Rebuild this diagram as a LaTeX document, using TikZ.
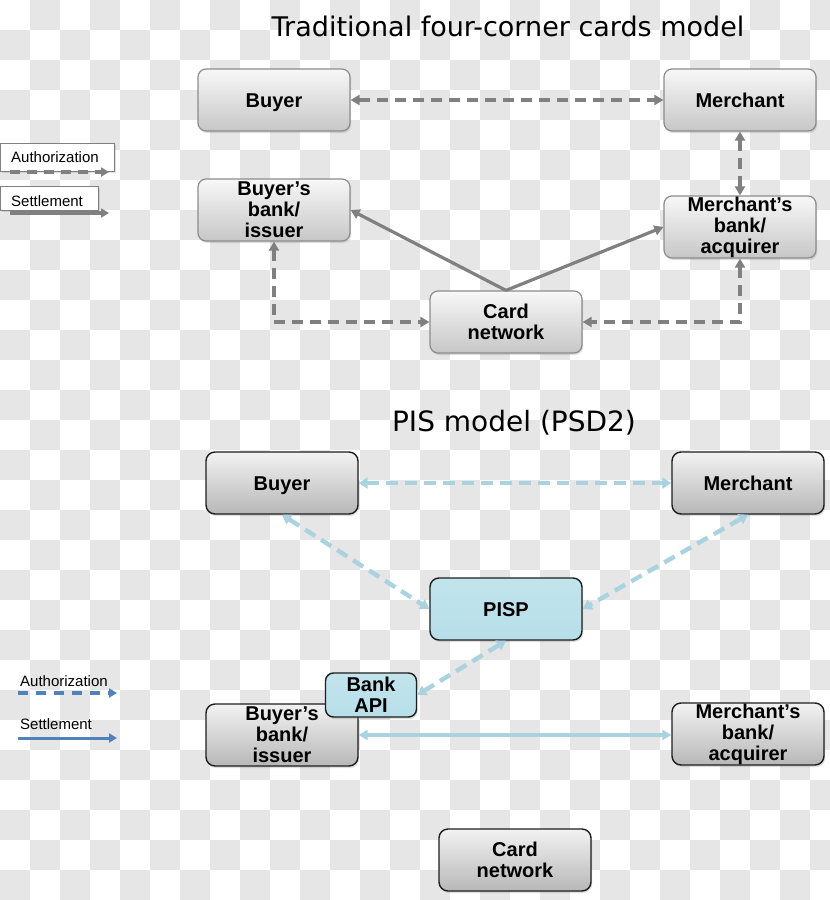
\documentclass[tikz,border=0pt]{standalone}
\usepackage{fontspec}
\setmainfont{Liberation Sans}
\newfontfamily\titlefont{DejaVu Sans}
\usetikzlibrary{arrows.meta,shadows}
\definecolor{checkgray}{HTML}{E6E6E6}
\definecolor{tgray}{HTML}{808080}
\definecolor{tborder}{HTML}{8C8C8C}
\definecolor{lblue}{HTML}{A9D3DF}
\definecolor{pispblue}{HTML}{B7DFE9}
\definecolor{legblue}{HTML}{4F81BD}
\definecolor{bborder}{HTML}{1E1E1E}
\begin{document}
\begin{tikzpicture}[x=1pt,y=-1pt,
  boxfont/.style={font=\fontsize{20}{21}\selectfont\bfseries},
  oneline/.style={text height=14.5pt, text depth=0pt},
  topbox/.style={boxfont, draw=tborder, line width=1.2pt, rounded corners=8pt,
    top color=white!97!black, bottom color=white!78!black,
    minimum width=152pt, minimum height=62pt, inner sep=0pt, align=center,
    drop shadow={shadow xshift=1.2pt, shadow yshift=-2pt, opacity=0.25}},
  botbox/.style={boxfont, draw=bborder, line width=1.4pt, rounded corners=9pt,
    top color=white!95!black, bottom color=white!72!black,
    minimum width=152pt, minimum height=62pt, inner sep=0pt, align=center,
    drop shadow={shadow xshift=1.2pt, shadow yshift=-2pt, opacity=0.25}},
  bluebox/.style={botbox, top color=pispblue!85!white, bottom color=pispblue},
  tarrow/.style={draw=tgray, line width=3.4pt, -{Triangle[length=9pt,width=10pt]}},
  tdash/.style={tarrow, line width=3.8pt, dash pattern=on 11pt off 7pt,
    {Triangle[length=9pt,width=10pt]}-{Triangle[length=9pt,width=10pt]}},
  tsolid/.style={tarrow, line width=3.2pt},
  bdash/.style={draw=lblue, line width=4.4pt, dash pattern=on 12pt off 7pt,
    {Triangle[length=9pt,width=11pt]}-{Triangle[length=9pt,width=11pt]}},
  bsolid/.style={draw=lblue, line width=4pt,
    {Triangle[length=9pt,width=10pt]}-{Triangle[length=9pt,width=10pt]}},
  legtext/.style={font=\fontsize{15}{17}\selectfont, text=black, inner sep=0pt},
  legframe/.style={draw=tgray, line width=1pt, fill=white, inner sep=0pt,
    drop shadow={shadow xshift=1pt, shadow yshift=-1.5pt, opacity=0.25}},
  titletext/.style={font=\titlefont\fontsize{27}{30}\selectfont, text=black}
]
\useasboundingbox (0,0) rectangle (830,900);
% checkerboard background
\begin{scope}
\clip (0,0) rectangle (830,900);
\fill[white] (0,0) rectangle (830,900);
\foreach \j in {0,...,29}{
  \pgfmathsetmacro\off{30*(1-mod(\j,2))}
  \foreach \k in {0,...,13}{
    \fill[checkgray] ({60*\k+\off},{30*\j}) rectangle ++(30,30);
  }
}
\end{scope}

% ---------- titles ----------
\node[titletext] (title1) at (508,26) {Traditional four-corner cards model};
\node[titletext, font=\titlefont\fontsize{28}{30}\selectfont] (title2) at (514,423) {PIS model (PSD2)};

% ---------- top legend ----------
\node[legframe, minimum width=114pt, minimum height=28pt, anchor=north west] (authframe) at (0,143) {};
\node[legtext, anchor=base west] (authlbl) at (11,162) {Authorization};
\coordinate (a1s) at (10,172);
\coordinate (a1e) at (109,172);
\draw[draw=tgray, line width=3.4pt, dash pattern=on 10pt off 7pt, -{Triangle[length=8pt,width=9pt]}] (a1s) -- (a1e);
\node[legframe, minimum width=98pt, minimum height=24pt, anchor=north west] (settframe) at (0,186) {};
\node[legtext, anchor=base west] (settlbl) at (11,206) {Settlement};
\coordinate (s1s) at (10,213);
\coordinate (s1e) at (109,213);
\draw[tarrow, -{Triangle[length=8pt,width=9pt]}] (s1s) -- (s1e);

% ---------- top diagram ----------
\node[topbox, oneline] (buyer) at (274,100) {Buyer};
\node[topbox, oneline] (merchant) at (740,100) {Merchant};
\node[topbox] (bbank) at (274,210) {Buyer’s\\bank/\\issuer};
\node[topbox] (mbank) at (740,227) {Merchant’s\\bank/\\acquirer};
\node[topbox] (card) at (506,322) {Card\\network};

\draw[tdash] (buyer.east) -- (merchant.west);
\draw[tdash] (merchant.south) -- (mbank.north);
\draw[tsolid] (card.north) -- (bbank.east);
\draw[tsolid] (card.north) -- (mbank.west);
\draw[tdash] (bbank.south) |- (card.west);
\draw[tdash] (mbank.south) |- (card.east);

% ---------- bottom legend ----------
\node[legtext, anchor=base west] (authlbl2) at (20,686) {Authorization};
\coordinate (a2s) at (18,693);
\coordinate (a2e) at (117,693);
\draw[draw=legblue, line width=3.4pt, dash pattern=on 10pt off 8pt, -{Triangle[length=8pt,width=9pt]}] (a2s) -- (a2e);
\node[legtext, anchor=base west] (settlbl2) at (20,729) {Settlement};
\coordinate (s2s) at (18,738);
\coordinate (s2e) at (117,738);
\draw[draw=legblue, line width=3pt, -{Triangle[length=8pt,width=9pt]}] (s2s) -- (s2e);

% ---------- bottom diagram ----------
\node[botbox, oneline] (buyer2) at (282,483) {Buyer};
\node[botbox, oneline] (merchant2) at (748,483) {Merchant};
\node[bluebox, oneline] (pisp) at (506,609) {PISP};
\node[botbox] (bbank2) at (282,735) {Buyer’s\\bank/\\issuer};
\node[bluebox, minimum width=91pt, minimum height=44pt, rounded corners=8pt] (bankapi) at (371,695) {Bank\\API};
\node[botbox] (mbank2) at (748,734) {Merchant’s\\bank/\\acquirer};
\node[botbox] (card2) at (515,860) {Card\\network};

\draw[bdash] (buyer2.east) -- (merchant2.west);
\draw[bdash] (buyer2.south) -- (pisp.west);
\draw[bdash] (merchant2.south) -- (pisp.east);
\draw[bdash] (pisp.south) -- (bankapi.east);
\draw[bsolid] (bbank2.east) -- (bbank2.east -| mbank2.west);
\end{tikzpicture}
\end{document}
